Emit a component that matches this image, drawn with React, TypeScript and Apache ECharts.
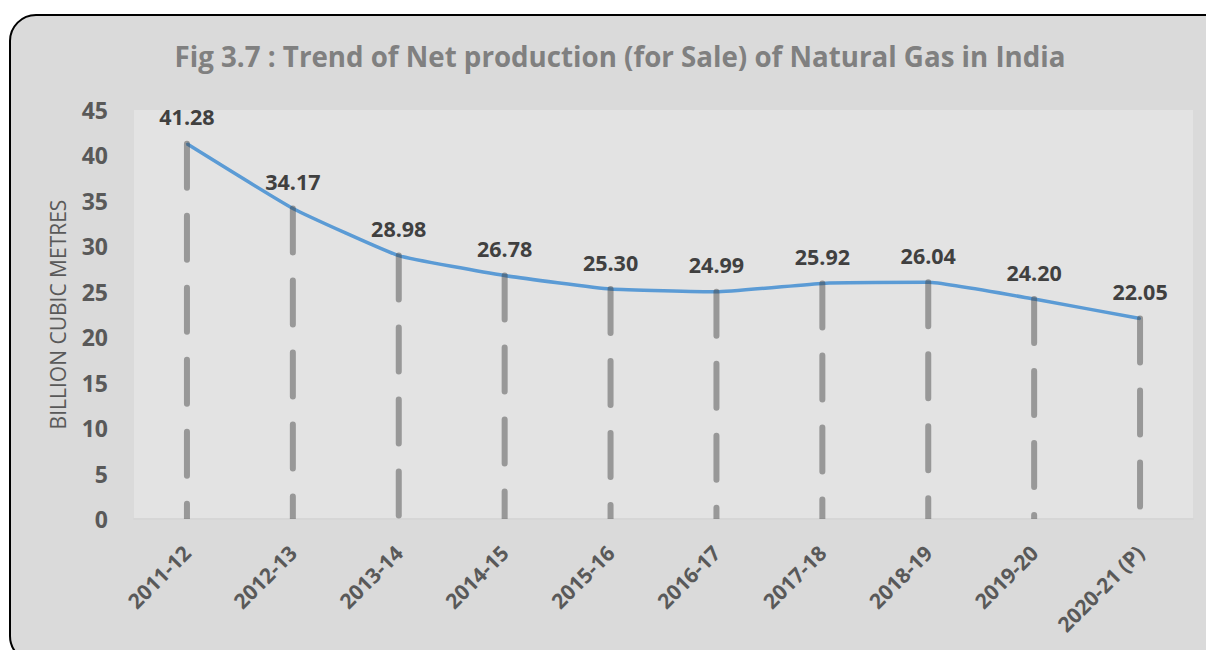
import React, { useEffect, useRef } from "react";
import * as echarts from "echarts";

const categories = ["2011-12", "2012-13", "2013-14", "2014-15", "2015-16", "2016-17", "2017-18", "2018-19", "2019-20", "2020-21 (P)"];
const production = [41.28, 34.17, 28.98, 26.78, 25.3, 24.99, 25.92, 26.04, 24.2, 22.05];
const yTicks = { min: 0, max: 45, interval: 5 };
const titleText = "Fig 3.7 : Trend of Net production (for Sale) of Natural Gas in India";
const yAxisName = "BILLION CUBIC METRES";

const FONT = "'Open Sans', sans-serif";

export default function App() {
  const ref = useRef<HTMLDivElement>(null);
  useEffect(() => {
    document.body.style.margin = "0";
    const chart = echarts.init(ref.current!, null, { renderer: "svg" });
    chart.setOption({
      animation: false,
      backgroundColor: "#ffffff",
      graphic: [
        {
          type: "rect",
          z: -10,
          silent: true,
          shape: { x: 10, y: 15, width: 1222, height: 647, r: 26 },
          style: { fill: "#dadada", stroke: "#000000", lineWidth: 2 },
        },
      ],
      title: {
        text: titleText,
        left: 615,
        textAlign: "center",
        top: 37,
        textStyle: { fontFamily: FONT, fontSize: 27.7, fontWeight: "bold", color: "#808080" },
      },
      grid: {
        left: 134,
        right: 13,
        top: 110,
        bottom: 131,
        show: true,
        backgroundColor: "#e3e3e3",
        borderWidth: 0,
      },
      xAxis: {
        type: "category",
        data: categories,
        boundaryGap: true,
        axisLine: { show: true, lineStyle: { color: "#d6d6d6", width: 2 } },
        axisTick: { show: false },
        axisLabel: {
          rotate: 45,
          interval: 0,
          margin: 30,
          fontFamily: FONT,
          fontSize: 21,
          fontWeight: "bold",
          color: "#595959",
        },
      },
      yAxis: {
        type: "value",
        min: yTicks.min,
        max: yTicks.max,
        interval: yTicks.interval,
        name: yAxisName,
        nameLocation: "middle",
        nameGap: 66,
        nameRotate: 90,
        nameTextStyle: { fontFamily: FONT, fontSize: 21, color: "#595959" },
        axisLine: { show: false },
        axisTick: { show: false },
        splitLine: { show: false },
        axisLabel: {
          margin: 26,
          fontFamily: FONT,
          fontSize: 23,
          fontWeight: "bold",
          color: "#595959",
        },
      },
      series: [
        {
          type: "line",
          data: production,
          smooth: 0.12,
          symbol: "circle",
          symbolSize: 2,
          itemStyle: { color: "#5b9bd5" },
          lineStyle: { color: "#5b9bd5", width: 3.5 },
          label: {
            show: true,
            position: "top",
            distance: 15,
            formatter: (p: any) => Number(p.value).toFixed(2),
            fontFamily: FONT,
            fontSize: 21.5,
            fontWeight: "bold",
            color: "#404040",
          },
          z: 2,
        },
        {
          type: "custom",
          z: 3,
          clip: true,
          data: production.map((v, i) => [i, v]),
          encode: { x: 0, y: 1 },
          renderItem: (params: any, api: any) => {
            const top = api.coord([api.value(0), api.value(1)]);
            const bottom = api.coord([api.value(0), 0]);
            return {
              type: "line",
              shape: { x1: top[0], y1: top[1], x2: bottom[0], y2: bottom[1] },
              style: {
                stroke: "rgba(64,64,64,0.46)",
                lineWidth: 6,
                lineDash: [44, 28],
                lineCap: "round",
              },
            };
          },
        },
      ],
    });
    return () => chart.dispose();
  }, []);
  return <div ref={ref} style={{ width: 1206, height: 650 }} />;
}
